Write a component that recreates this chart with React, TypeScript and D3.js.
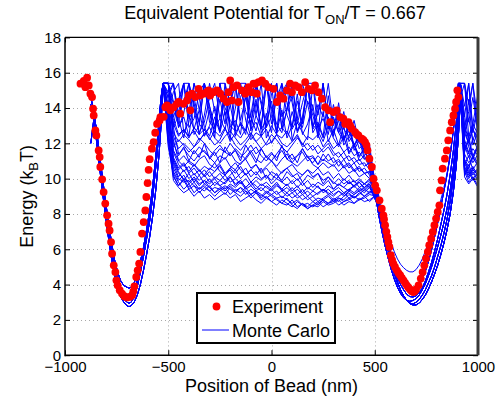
import React, { useEffect, useRef } from 'react';
import * as d3 from 'd3';

// ---------- axes ----------
const xTicks = [-1000, -500, 0, 500, 1000];
const yTicks = [0, 2, 4, 6, 8, 10, 12, 14, 16, 18];

// ---------- Experiment (red dots) ----------
const expX = [
  -925, -909, -901, -893, -885, -877, -869, -864, -861, -853, -848, -837, -832, -829, -820, -813, -805, -796, -789, -784,
  -777, -772, -764, -756, -751, -745, -735, -724, -713, -700, -687, -675, -669, -664, -655, -648, -641, -635, -627, -619,
  -611, -606, -600, -595, -590, -579, -571, -563, -554, -542, -538, -522, -514, -506, -490, -474, -458, -450, -442, -426,
  -409, -401, -393, -385, -369, -353, -345, -329, -313, -305, -297, -281, -264, -248, -232, -216, -208, -200, -192, -184,
  -167, -160, -143, -127, -111, -95, -87, -79, -71, -63, -46, -30, -15, 10, 26, 42, 58, 75, 90, 99,
  115, 131, 147, 163, 179, 196, 211, 227, 244, 260, 276, 284, 300, 316, 332, 348, 357, 373, 381, 389,
  405, 413, 421, 437, 445, 453, 460, 465, 474, 486, 494, 502, 510, 523, 534, 542, 545, 550, 556, 561,
  566, 571, 578, 584, 590, 598, 607, 615, 623, 631, 639, 647, 655, 663, 671, 679, 687, 693, 700, 712,
  723, 732, 740, 748, 757, 764, 773, 781, 789, 797, 805, 813, 816, 824, 829, 840, 849, 856, 865, 873,
  881, 889, 894, 900, 905,
];
const expE = [
  15.38, 15.53, 15.18, 15.72, 15.28, 14.81, 14.62, 13.96, 13.58, 12.73, 12.45, 11.6, 11.22, 10.66, 9.96, 9.24, 8.59, 7.92, 7.45, 7.07,
  6.41, 5.75, 5.09, 4.71, 4.24, 3.96, 3.68, 3.49, 3.34, 3.27, 3.3, 3.4, 3.62, 3.9, 4.43, 4.81, 5.19, 5.85, 6.89, 7.54,
  8.2, 8.96, 9.75, 10.5, 11.1, 11.7, 12.07, 12.6, 13.1, 13.3, 13.49, 13.5, 14.05, 14.15, 13.87, 14.05, 14.24, 14.34, 13.68, 14.24,
  14.43, 14.71, 13.87, 14.81, 14.62, 15.09, 14.71, 14.81, 14.9, 15.0, 14.71, 14.9, 15.0, 14.81, 14.53, 14.34, 14.9, 15.56, 14.43, 15.18,
  15.28, 14.34, 15.0, 14.81, 15.18, 14.9, 15.38, 15.38, 14.81, 15.47, 15.56, 15.38, 15.18, 15.09, 14.34, 14.71, 14.53, 15.0, 15.38, 14.9,
  15.28, 15.18, 14.9, 15.47, 15.09, 15.0, 15.28, 14.9, 14.53, 14.05, 13.87, 13.2, 13.77, 13.87, 13.49, 13.4, 13.1, 13.2, 13.0, 12.83,
  12.64, 12.5, 12.45, 12.26, 12.2, 12.07, 11.9, 11.6, 11.13, 10.66, 10.0, 9.62, 9.34, 8.77, 8.3, 7.92, 7.7, 7.36, 7.0, 6.7,
  6.4, 6.13, 5.66, 5.4, 5.19, 5.0, 4.81, 4.65, 4.53, 4.38, 4.24, 4.1, 3.96, 3.84, 3.72, 3.62, 3.58, 3.62, 3.72, 3.96,
  4.34, 4.71, 5.09, 5.47, 5.85, 6.23, 6.6, 6.98, 7.36, 7.74, 8.11, 8.49, 9.34, 9.9, 10.57, 11.13, 11.6, 12.17, 12.73, 13.2,
  13.58, 13.96, 14.34, 15.0, 14.62,
];

// ---------- Monte Carlo: shared well segments ----------
const wellLeftX = [-875, -860, -850, -835, -820, -805, -790, -775, -760, -745, -730, -715, -700, -690, -680, -665, -650, -635, -620, -605, -590, -575, -560, -545, -535, -525];
const wellLeftA = [14.6, 13.8, 12.6, 11.1, 9.6, 8.2, 6.9, 5.7, 4.7, 4.0, 3.5, 3.2, 3.0, 2.95, 3.0, 3.3, 3.9, 4.7, 5.6, 6.6, 7.6, 9.0, 10.7, 12.6, 14.0, 15.4];
const wellLeftB = [13.5, 13.9, 12.8, 11.3, 9.9, 8.5, 7.2, 6.0, 5.0, 4.3, 3.8, 3.5, 3.35, 3.3, 3.35, 3.6, 4.2, 5.0, 5.9, 6.9, 8.0, 9.4, 11.1, 13.0, 14.4, 15.4];
const wellLeftC = [12.0, 13.4, 13.0, 11.6, 10.2, 8.8, 7.6, 6.4, 5.4, 4.7, 4.2, 3.95, 3.85, 3.8, 3.85, 4.1, 4.6, 5.3, 6.1, 7.1, 8.2, 9.6, 11.3, 13.2, 14.6, 15.4];
const wellLeftD = [14.2, 13.6, 12.4, 10.9, 9.4, 8.0, 6.7, 5.5, 4.5, 3.8, 3.3, 3.0, 2.8, 2.75, 2.8, 3.0, 3.4, 4.0, 4.8, 5.7, 6.7, 7.9, 9.4, 11.3, 13.0, 15.4];

const wellRightX = [510, 520, 535, 550, 565, 580, 595, 610, 625, 640, 655, 670, 685, 700, 715, 730, 745, 760, 775, 790, 805, 820, 835, 850, 865, 880, 895, 905, 915];
const wellRightA = [9.0, 8.3, 7.4, 6.6, 5.9, 5.2, 4.6, 4.1, 3.7, 3.35, 3.1, 2.95, 2.9, 3.0, 3.15, 3.4, 3.7, 4.1, 4.5, 5.0, 5.6, 6.2, 6.9, 7.7, 8.7, 10.0, 11.6, 13.2, 15.4];
const wellRightB = [9.2, 8.5, 7.6, 6.8, 6.1, 5.45, 4.9, 4.4, 4.0, 3.7, 3.45, 3.32, 3.3, 3.35, 3.55, 3.8, 4.2, 4.7, 5.25, 5.9, 6.6, 7.4, 8.2, 9.1, 10.2, 11.5, 13.2, 14.6, 15.4];
const wellRightC = [9.4, 8.7, 7.8, 7.0, 6.3, 5.7, 5.15, 4.65, 4.25, 3.95, 3.75, 3.62, 3.6, 3.7, 3.95, 4.3, 4.75, 5.3, 5.95, 6.7, 7.5, 8.4, 9.3, 10.2, 11.3, 12.7, 14.3, 15.4, 15.4];
const wellRightD = [9.6, 9.0, 8.2, 7.5, 6.9, 6.35, 5.85, 5.45, 5.15, 4.95, 4.8, 4.72, 4.72, 4.85, 5.1, 5.45, 5.9, 6.4, 6.9, 7.5, 8.1, 8.8, 9.5, 10.3, 11.3, 12.6, 14.1, 15.4, 15.4];
const wellRightE = [9.1, 8.4, 7.5, 6.7, 6.0, 5.3, 4.7, 4.15, 3.7, 3.35, 3.1, 2.92, 2.85, 2.85, 2.95, 3.15, 3.4, 3.75, 4.15, 4.6, 5.1, 5.7, 6.35, 7.1, 8.0, 9.2, 10.8, 12.4, 14.6];
const wellRightF = [8.6, 7.9, 7.0, 6.2, 5.5, 4.85, 4.3, 3.85, 3.5, 3.25, 3.1, 3.05, 3.1, 3.2, 3.4, 3.7, 4.05, 4.5, 5.0, 5.55, 6.15, 6.8, 7.5, 8.3, 9.3, 10.6, 12.2, 13.8, 15.4];

const plateauX = [-500, -475, -450, -425, -400, -375, -350, -325, -300, -275, -250, -225, -200, -175, -150, -125, -100, -75, -50, -25,
  0, 25, 50, 75, 100, 125, 150, 175, 200, 225, 250, 275, 300, 325, 350, 375, 400, 425, 450, 475];
const tailX = [935, 955, 975, 1000];

// ---------- Monte Carlo: per-run plateau values ----------
const mcUpper1 = [15.4, 14.2, 13.1, 15.4, 13.6, 12.8, 13.9, 15.4, 14.1, 12.9, 13.4, 14.8, 13.0, 12.7, 15.4, 13.8, 13.2, 14.5, 12.8, 15.4, 14.0, 13.1, 12.6, 13.9, 15.4, 13.3, 12.9, 14.4, 13.6, 12.5, 15.4, 13.2, 12.4, 13.7, 12.3, 12.9, 11.8, 12.4, 11.5, 11.9];
const mcUpper2 = [14.6, 15.4, 12.9, 13.7, 15.4, 14.3, 12.6, 13.2, 14.6, 15.4, 13.4, 12.8, 14.2, 15.4, 13.0, 12.7, 13.6, 15.4, 14.4, 12.9, 13.5, 15.4, 12.8, 13.9, 14.7, 12.6, 13.3, 15.4, 13.8, 12.9, 13.4, 12.5, 14.2, 12.8, 12.2, 13.0, 11.9, 12.5, 11.3, 11.6];
const mcUpper3 = [15.4, 13.5, 14.3, 15.4, 12.9, 13.4, 14.9, 15.4, 13.2, 12.8, 15.4, 14.0, 13.3, 12.9, 14.6, 15.4, 13.5, 12.7, 13.9, 15.4, 13.1, 14.5, 15.4, 13.6, 12.8, 13.4, 15.4, 14.2, 12.9, 13.7, 15.4, 12.8, 13.5, 12.6, 12.1, 13.2, 11.6, 12.2, 11.1, 11.4];
const mcUpper4 = [13.8, 14.9, 15.4, 12.6, 13.2, 15.4, 13.9, 12.4, 13.0, 14.1, 12.7, 15.4, 14.2, 12.6, 13.1, 12.5, 15.4, 13.6, 12.8, 13.3, 15.4, 12.6, 12.9, 15.4, 14.3, 12.7, 13.5, 15.4, 12.8, 13.2, 12.4, 14.7, 12.6, 13.3, 11.9, 12.4, 11.9, 11.3, 11.7, 10.9];
const mcUpper5 = [15.4, 12.9, 13.6, 14.4, 15.4, 12.5, 13.0, 15.4, 13.7, 12.6, 14.5, 13.1, 15.4, 12.4, 13.2, 12.7, 14.8, 15.4, 12.6, 13.0, 14.4, 12.6, 13.9, 12.3, 13.0, 14.8, 12.5, 13.1, 14.2, 12.3, 13.8, 12.1, 12.8, 11.9, 13.0, 11.5, 12.0, 11.2, 11.8, 10.7];
const mcUpper6 = [15.4, 15.4, 13.4, 12.3, 13.8, 15.4, 14.6, 12.9, 12.4, 13.5, 12.6, 13.8, 12.2, 15.0, 15.4, 13.3, 12.4, 13.6, 15.4, 12.3, 13.0, 12.5, 14.9, 15.4, 12.2, 13.2, 12.6, 12.2, 15.4, 12.7, 12.1, 13.0, 12.3, 11.8, 12.4, 11.4, 11.9, 11.0, 11.3, 10.6];
const mcUpper7 = [15.4, 13.0, 14.5, 15.4, 13.4, 13.9, 12.5, 13.6, 15.4, 13.8, 12.7, 14.9, 12.6, 14.0, 15.4, 15.4, 12.7, 14.3, 13.0, 15.4, 13.8, 12.6, 15.4, 14.3, 12.9, 14.4, 13.1, 15.4, 15.4, 13.6, 15.4, 12.9, 13.4, 12.6, 13.8, 12.1, 12.6, 11.7, 12.0, 11.3];
const mcUpper8 = [14.9, 15.4, 13.7, 15.4, 15.4, 14.0, 13.2, 15.4, 14.1, 12.9, 15.4, 13.6, 14.4, 15.4, 13.3, 14.6, 13.0, 15.4, 14.2, 12.9, 14.8, 15.4, 13.5, 14.0, 15.4, 13.1, 14.3, 15.4, 12.9, 14.2, 13.5, 15.4, 13.0, 13.9, 12.8, 12.4, 13.3, 12.0, 11.9, 11.6];
const mcUpper9 = [15.4, 14.4, 12.9, 13.5, 12.4, 14.6, 13.1, 12.7, 13.9, 12.3, 15.4, 15.4, 12.9, 13.3, 12.5, 14.9, 12.8, 13.2, 12.4, 13.7, 12.6, 15.4, 12.9, 12.5, 13.8, 12.7, 13.2, 15.4, 12.6, 13.1, 12.3, 13.5, 12.4, 14.3, 12.2, 12.7, 11.9, 12.3, 11.5, 11.1];
const mcMid1 = [14.2, 12.6, 12.1, 12.5, 12.2, 11.8, 12.1, 12.6, 12.3, 11.9, 12.2, 12.8, 12.4, 11.9, 11.6, 12.0, 12.4, 12.1, 11.7, 12.0, 12.5, 12.2, 11.8, 11.5, 11.9, 12.3, 12.0, 11.6, 11.9, 11.4, 11.7, 12.0, 11.5, 11.2, 11.5, 11.0, 11.2, 10.8, 10.9, 10.5];
const mcMid2 = [13.5, 11.8, 12.2, 11.9, 11.5, 11.8, 12.3, 12.0, 11.6, 11.3, 11.7, 11.5, 12.0, 11.6, 11.2, 11.5, 11.9, 11.4, 11.7, 11.2, 11.0, 11.4, 11.8, 11.5, 11.1, 11.3, 11.7, 11.2, 10.9, 11.3, 11.0, 11.4, 10.9, 11.1, 10.7, 10.9, 10.5, 10.7, 10.3, 10.4];
const mcMid3 = [15.4, 12.9, 11.4, 11.7, 11.3, 11.0, 11.4, 11.6, 11.2, 10.9, 11.3, 11.1, 11.5, 11.0, 10.8, 11.2, 11.6, 11.1, 10.9, 11.3, 11.0, 10.7, 11.1, 11.4, 10.9, 10.7, 11.0, 11.3, 10.8, 10.6, 10.9, 10.6, 10.8, 10.4, 10.7, 10.3, 10.5, 10.1, 10.3, 10.0];
const mcMid4 = [13.0, 12.2, 11.0, 11.3, 10.9, 10.7, 11.1, 11.3, 10.8, 10.6, 10.9, 11.2, 10.7, 10.5, 10.9, 11.1, 10.6, 10.8, 10.4, 10.7, 11.0, 10.6, 10.3, 10.6, 10.8, 10.4, 10.2, 10.5, 10.3, 10.6, 10.2, 10.4, 10.0, 10.3, 9.9, 10.2, 9.8, 10.0, 9.7, 9.9];
const mcMid5 = [15.4, 13.4, 12.5, 12.8, 12.4, 12.7, 12.2, 12.5, 12.9, 12.3, 12.0, 12.4, 12.7, 12.3, 11.9, 12.2, 12.6, 12.1, 12.4, 11.9, 12.1, 12.5, 12.0, 11.8, 12.1, 12.4, 11.8, 12.0, 11.6, 11.9, 11.5, 11.8, 11.3, 11.5, 11.1, 11.3, 10.9, 11.1, 10.7, 10.9];
const mcMid6 = [14.0, 11.6, 11.0, 10.7, 11.0, 10.8, 10.4, 10.7, 10.5, 10.9, 10.4, 10.2, 10.6, 10.9, 10.5, 10.2, 10.5, 10.8, 10.3, 10.6, 10.2, 10.0, 10.4, 10.6, 10.2, 9.9, 10.2, 10.5, 10.1, 10.3, 9.9, 10.1, 9.7, 10.0, 9.7, 9.9, 9.5, 9.8, 9.4, 9.7];
const mcMid7 = [15.4, 12.4, 11.7, 12.0, 11.7, 11.4, 11.8, 11.5, 11.2, 11.6, 11.9, 11.5, 11.3, 11.7, 11.4, 11.1, 11.5, 11.8, 11.3, 11.0, 11.4, 11.2, 11.6, 11.1, 10.9, 11.3, 11.5, 11.0, 11.2, 10.8, 11.1, 10.9, 10.7, 11.0, 10.6, 10.8, 10.4, 10.6, 10.3, 10.4];
const mcMid8 = [15.4, 12.0, 11.3, 11.8, 11.0, 11.6, 11.2, 12.0, 11.1, 11.5, 10.9, 11.8, 11.3, 11.6, 11.0, 11.9, 11.4, 10.9, 11.7, 11.2, 11.5, 11.0, 11.9, 11.1, 11.4, 10.9, 11.7, 11.2, 11.3, 10.8, 11.4, 11.0, 11.2, 10.7, 11.1, 10.6, 10.9, 10.4, 10.6, 10.2];
const mcMid9 = [14.8, 13.1, 12.4, 12.8, 12.3, 12.9, 12.5, 12.8, 12.2, 12.7, 12.4, 12.9, 12.1, 12.6, 12.3, 12.8, 12.2, 12.6, 12.4, 12.8, 12.0, 12.5, 12.3, 12.7, 12.1, 12.5, 11.9, 12.4, 12.2, 12.5, 11.8, 12.2, 11.7, 12.0, 11.5, 11.8, 11.3, 11.5, 11.1, 11.3];
const mcMid10 = [13.8, 11.2, 10.6, 10.9, 10.4, 10.8, 10.5, 10.2, 10.6, 10.4, 10.8, 10.3, 10.6, 10.3, 10.7, 10.2, 10.5, 10.2, 10.6, 10.0, 10.4, 10.2, 9.9, 10.4, 10.1, 10.3, 9.8, 10.2, 10.0, 10.3, 9.7, 10.1, 9.8, 9.6, 10.0, 9.7, 9.9, 9.5, 9.7, 9.5];
const mcLow1 = [12.5, 10.6, 10.0, 9.8, 9.9, 9.6, 9.4, 9.6, 9.3, 9.5, 9.4, 9.6, 9.4, 9.2, 9.5, 9.3, 9.1, 9.3, 9.1, 8.9, 9.1, 8.9, 9.0, 8.8, 8.6, 8.8, 8.5, 8.6, 8.4, 8.6, 8.8, 8.6, 8.7, 8.9, 8.7, 8.8, 9.0, 8.8, 8.9, 9.1];
const mcLow2 = [13.0, 10.9, 10.3, 10.0, 9.8, 10.1, 9.7, 9.9, 9.5, 9.8, 9.6, 9.4, 9.7, 9.5, 9.8, 9.4, 9.6, 9.3, 9.5, 9.2, 9.4, 9.1, 9.3, 9.0, 9.2, 8.9, 9.1, 8.8, 9.0, 8.7, 8.9, 9.1, 8.8, 9.0, 9.2, 8.9, 9.1, 9.3, 9.0, 9.2];
const mcLow3 = [11.8, 10.2, 9.6, 9.9, 9.4, 9.6, 9.2, 9.5, 9.3, 9.0, 9.3, 9.5, 9.1, 9.4, 9.2, 9.5, 9.1, 9.3, 8.9, 9.2, 9.0, 8.8, 8.6, 8.9, 8.5, 8.3, 8.6, 8.4, 8.7, 8.5, 8.8, 8.6, 8.9, 8.7, 9.0, 9.2, 8.9, 9.1, 9.4, 9.2];
const mcLow4 = [14.5, 11.5, 10.8, 10.4, 10.7, 10.2, 10.5, 10.1, 10.4, 10.0, 10.3, 9.9, 10.2, 10.5, 10.0, 10.3, 9.8, 10.1, 9.9, 10.2, 9.7, 10.0, 9.8, 9.6, 9.9, 9.5, 9.8, 9.4, 9.7, 9.5, 9.3, 9.6, 9.4, 9.7, 9.5, 9.3, 9.6, 9.8, 9.5, 9.7];
const mcLow5 = [12.0, 10.4, 9.9, 10.2, 9.7, 10.0, 9.6, 9.9, 9.7, 10.0, 9.6, 9.8, 10.1, 9.7, 9.9, 9.5, 9.8, 9.6, 9.3, 9.6, 9.4, 9.7, 9.3, 9.5, 9.2, 9.4, 9.1, 9.3, 9.0, 9.2, 9.4, 9.1, 9.3, 9.5, 9.2, 9.4, 9.6, 9.3, 9.5, 9.8];
const mcLow6 = [13.6, 11.1, 10.5, 10.8, 10.3, 10.6, 10.2, 10.5, 10.1, 10.4, 10.7, 10.2, 10.5, 10.0, 10.3, 10.6, 10.1, 10.4, 10.0, 10.2, 9.9, 10.3, 9.8, 10.1, 9.7, 10.0, 9.6, 9.9, 9.5, 9.8, 9.6, 9.9, 9.4, 9.7, 9.5, 9.8, 9.6, 9.9, 9.7, 10.0];
const mcLow7 = [12.2, 9.9, 9.5, 9.2, 9.4, 9.0, 9.3, 8.9, 9.1, 8.8, 9.0, 9.2, 8.9, 9.1, 8.7, 8.9, 9.1, 8.8, 8.6, 8.9, 8.7, 8.5, 8.8, 8.6, 8.4, 8.7, 8.5, 8.3, 8.5, 8.7, 8.4, 8.6, 8.8, 8.5, 8.7, 8.9, 8.6, 8.8, 9.0, 8.7];
const mcLow8 = [13.2, 10.8, 10.1, 10.5, 10.0, 10.3, 9.9, 10.2, 9.8, 10.1, 9.9, 10.2, 9.8, 10.0, 9.7, 10.0, 9.6, 9.9, 9.6, 9.8, 9.5, 9.8, 9.4, 9.7, 9.3, 9.6, 9.2, 9.5, 9.3, 9.6, 9.2, 9.4, 9.1, 9.3, 9.0, 9.3, 9.1, 9.4, 9.2, 9.5];
const mcLow9 = [12.8, 10.3, 9.8, 9.4, 9.7, 9.2, 9.5, 9.3, 9.6, 9.2, 9.4, 9.1, 9.5, 9.2, 9.0, 9.3, 8.9, 9.2, 8.8, 9.0, 8.7, 8.9, 8.6, 8.5, 8.8, 8.4, 8.6, 8.3, 8.5, 8.4, 8.7, 8.5, 8.6, 8.8, 8.5, 8.7, 8.6, 8.9, 8.7, 8.8];
const mcLow10 = [14.0, 11.0, 10.4, 9.9, 10.3, 9.8, 10.2, 9.7, 10.0, 9.6, 9.9, 9.7, 10.1, 9.6, 9.9, 9.5, 9.8, 9.4, 9.7, 9.5, 9.3, 9.6, 9.4, 9.2, 9.5, 9.1, 9.4, 9.0, 9.3, 9.1, 9.4, 9.2, 9.0, 9.3, 9.1, 9.4, 9.2, 9.5, 9.3, 9.6];
const mcLow11 = [12.4, 10.1, 9.6, 10.0, 9.5, 9.8, 9.4, 9.7, 9.5, 9.2, 9.5, 9.3, 9.6, 9.3, 9.5, 9.1, 9.4, 9.2, 9.0, 9.3, 9.1, 9.3, 8.9, 9.2, 8.9, 9.1, 8.8, 9.0, 8.7, 8.9, 8.8, 9.0, 8.7, 8.9, 8.8, 9.1, 8.9, 9.2, 9.0, 9.3];

const mcRuns = [
  { plateau: mcUpper1, tail: [15.4, 13.2, 14.6, 12.8], left: 'A', right: 'A' },
  { plateau: mcUpper2, tail: [14.1, 15.4, 12.6, 13.9], left: 'B', right: 'B' },
  { plateau: mcUpper3, tail: [12.9, 13.8, 15.4, 12.2], left: 'A', right: 'C' },
  { plateau: mcUpper4, tail: [15.4, 12.4, 13.1, 14.8], left: 'C', right: 'E' },
  { plateau: mcUpper5, tail: [13.6, 12.1, 12.9, 11.8], left: 'B', right: 'F' },
  { plateau: mcUpper6, tail: [12.3, 14.5, 11.9, 12.7], left: 'D', right: 'B' },
  { plateau: mcUpper7, tail: [13.5, 15.4, 12.9, 14.0], left: 'D', right: 'E' },
  { plateau: mcUpper8, tail: [15.4, 14.2, 15.4, 13.3], left: 'C', right: 'F' },
  { plateau: mcUpper9, tail: [12.6, 13.4, 12.2, 12.9], left: 'B', right: 'E' },
  { plateau: mcMid1, tail: [12.0, 11.4, 12.3, 11.6], left: 'B', right: 'C' },
  { plateau: mcMid2, tail: [11.5, 12.2, 11.1, 11.8], left: 'A', right: 'A' },
  { plateau: mcMid3, tail: [13.0, 11.8, 11.2, 11.9], left: 'C', right: 'B' },
  { plateau: mcMid4, tail: [11.1, 10.7, 11.3, 10.9], left: 'D', right: 'E' },
  { plateau: mcMid5, tail: [12.6, 12.0, 12.8, 12.2], left: 'B', right: 'C' },
  { plateau: mcMid6, tail: [10.8, 11.3, 10.5, 11.0], left: 'A', right: 'F' },
  { plateau: mcMid7, tail: [11.9, 11.2, 11.7, 11.3], left: 'C', right: 'A' },
  { plateau: mcMid8, tail: [11.6, 12.4, 11.3, 11.9], left: 'D', right: 'F' },
  { plateau: mcMid9, tail: [12.9, 12.3, 13.1, 12.5], left: 'A', right: 'E' },
  { plateau: mcMid10, tail: [11.0, 10.6, 11.2, 10.8], left: 'B', right: 'F' },
  { plateau: mcLow1, tail: [10.6, 10.1, 10.5, 10.2], left: 'A', right: 'A' },
  { plateau: mcLow2, tail: [10.3, 10.8, 10.2, 10.6], left: 'B', right: 'B' },
  { plateau: mcLow3, tail: [11.0, 10.4, 9.9, 10.3], left: 'A', right: 'D' },
  { plateau: mcLow4, tail: [11.4, 10.9, 11.2, 10.7], left: 'B', right: 'A' },
  { plateau: mcLow5, tail: [10.2, 10.6, 10.0, 10.4], left: 'D', right: 'C' },
  { plateau: mcLow6, tail: [12.2, 11.5, 10.9, 11.4], left: 'C', right: 'B' },
  { plateau: mcLow7, tail: [10.4, 9.8, 10.1, 9.6], left: 'A', right: 'E' },
  { plateau: mcLow8, tail: [10.9, 10.3, 10.7, 10.1], left: 'B', right: 'A' },
  { plateau: mcLow9, tail: [10.1, 9.7, 10.0, 9.5], left: 'D', right: 'E' },
  { plateau: mcLow10, tail: [10.7, 10.2, 10.6, 10.3], left: 'C', right: 'F' },
  { plateau: mcLow11, tail: [10.5, 10.0, 10.4, 9.9], left: 'B', right: 'E' },
];

const legendLabels = ['Experiment', 'Monte Carlo'];

const FONT = "'Liberation Sans', Arial, Helvetica, sans-serif";

export default function App() {
  const ref = useRef<SVGSVGElement>(null);

  useEffect(() => {
    const svg = d3.select(ref.current);
    svg.selectAll('*').remove();

    const W = 504, H = 403;
    const L = 65, R = 478, T = 37.4, B = 355.2;
    const x = d3.scaleLinear().domain([-1000, 1000]).range([L, R]);
    const y = d3.scaleLinear().domain([0, 18]).range([B, T]);

    svg.append('rect').attr('width', W).attr('height', H).attr('fill', '#fff');

    // grid
    const grid = svg.append('g').attr('stroke', '#a8a8a8').attr('stroke-width', 1).attr('stroke-dasharray', '1,3');
    grid.selectAll('line.gx').data(xTicks.slice(1, -1)).join('line')
      .attr('x1', d => Math.round(x(d)) + 0.5).attr('x2', d => Math.round(x(d)) + 0.5)
      .attr('y1', T).attr('y2', B);
    grid.selectAll('line.gy').data(yTicks.slice(1, -1)).join('line')
      .attr('y1', d => Math.round(y(d)) + 0.5).attr('y2', d => Math.round(y(d)) + 0.5)
      .attr('x1', L).attr('x2', R);

    svg.append('clipPath').attr('id', 'plotclip').append('rect')
      .attr('x', L).attr('y', T).attr('width', R - L).attr('height', B - T);

    const leftMap: Record<string, number[]> = { A: wellLeftA, B: wellLeftB, C: wellLeftC, D: wellLeftD };
    const rightMap: Record<string, number[]> = { A: wellRightA, B: wellRightB, C: wellRightC, D: wellRightD, E: wellRightE, F: wellRightF };

    const line = d3.line<[number, number]>()
      .x(d => x(d[0])).y(d => y(d[1])).curve(d3.curveLinear);

    const mcG = svg.append('g').attr('clip-path', 'url(#plotclip)');
    mcRuns.forEach(run => {
      const pts: [number, number][] = [
        ...wellLeftX.map((v, i) => [v, leftMap[run.left][i]] as [number, number]),
        ...plateauX.map((v, i) => [v, run.plateau[i]] as [number, number]),
        ...wellRightX.map((v, i) => [v, rightMap[run.right][i]] as [number, number]),
        ...tailX.map((v, i) => [v, run.tail[i]] as [number, number]),
      ];
      mcG.append('path').attr('d', line(pts) as string)
        .attr('fill', 'none').attr('stroke', '#0000ff').attr('stroke-width', 1)
        .attr('stroke-linejoin', 'round');
    });

    // experiment dots
    svg.append('g').attr('clip-path', 'url(#plotclip)')
      .selectAll('circle').data(expX.map((v, i) => [v, expE[i]])).join('circle')
      .attr('cx', d => x(d[0])).attr('cy', d => y(d[1])).attr('r', 3.9)
      .attr('fill', '#ff0000');

    // axes
    const fmt = d3.format('d');
    const ax = svg.append('g');
    const bottom = ax.append('g').attr('transform', `translate(0,${B})`)
      .call(d3.axisBottom(x).tickValues(xTicks).tickFormat(d => fmt(d as number)).tickSizeInner(-5).tickSizeOuter(0).tickPadding(6.3));
    const left = ax.append('g').attr('transform', `translate(${L},0)`)
      .call(d3.axisLeft(y).tickValues(yTicks).tickFormat(d => fmt(d as number)).tickSizeInner(-5).tickSizeOuter(0).tickPadding(4));
    const top = ax.append('g').attr('transform', `translate(0,${T})`)
      .call(d3.axisTop(x).tickValues(xTicks).tickSizeInner(-5).tickSizeOuter(0).tickFormat(() => ''));
    const right = ax.append('g').attr('transform', `translate(${R},0)`)
      .call(d3.axisRight(y).tickValues(yTicks).tickSizeInner(-5).tickSizeOuter(0).tickFormat(() => ''));
    [bottom, left, top, right].forEach(g => {
      g.select('.domain').remove();
      g.selectAll('line').attr('stroke', '#000');
      g.selectAll('text').attr('font-family', FONT).attr('font-size', 15).attr('fill', '#000');
    });

    // box
    ax.append('line').attr('x1', L).attr('x2', L).attr('y1', T).attr('y2', B + 1).attr('stroke', '#000').attr('stroke-width', 1.5);
    ax.append('line').attr('x1', L).attr('x2', R).attr('y1', B).attr('y2', B).attr('stroke', '#000').attr('stroke-width', 1.5);
    ax.append('line').attr('x1', L).attr('x2', R).attr('y1', T).attr('y2', T).attr('stroke', '#000').attr('stroke-width', 1.2);
    ax.append('line').attr('x1', R).attr('x2', R).attr('y1', T).attr('y2', B).attr('stroke', '#3a3a3a').attr('stroke-width', 3);

    // title
    const title = svg.append('text').attr('x', 275).attr('y', 18.5).attr('text-anchor', 'middle')
      .attr('font-family', FONT).attr('font-size', 18).attr('fill', '#000');
    title.append('tspan').text('Equivalent Potential for T');
    title.append('tspan').attr('font-size', 13).attr('dy', 5).text('ON');
    title.append('tspan').attr('dy', -5).text('/T = 0.667');

    // x label
    svg.append('text').attr('x', 271.5).attr('y', 391.5).attr('text-anchor', 'middle')
      .attr('font-family', FONT).attr('font-size', 18).attr('fill', '#000')
      .text('Position of Bead (nm)');

    // y label
    const yl = svg.append('text').attr('transform', `translate(33,${(T + B) / 2}) rotate(-90)`)
      .attr('text-anchor', 'middle').attr('font-family', FONT).attr('font-size', 18).attr('fill', '#000');
    yl.append('tspan').text('Energy (k');
    yl.append('tspan').attr('font-size', 13).attr('dy', 5).text('B');
    yl.append('tspan').attr('dy', -5).text('T)');

    // legend
    const lg = svg.append('g');
    lg.append('rect').attr('x', 197).attr('y', 293).attr('width', 138).attr('height', 50)
      .attr('fill', '#fff').attr('stroke', '#000').attr('stroke-width', 2);
    lg.append('circle').attr('cx', 216.5).attr('cy', 306.5).attr('r', 3.9).attr('fill', '#ff0000');
    lg.append('line').attr('x1', 202).attr('x2', 229).attr('y1', 330).attr('y2', 330)
      .attr('stroke', '#0000ff').attr('stroke-width', 1);
    lg.selectAll('text.lt').data(legendLabels).join('text')
      .attr('x', 232).attr('y', (d, i) => (i === 0 ? 313.3 : 336.5))
      .attr('font-family', FONT).attr('font-size', 18).attr('fill', '#000').text(d => d);
  }, []);

  return (
    <svg ref={ref} width={504} height={403}
      style={{ position: 'absolute', left: 0, top: 0, display: 'block' }} />
  );
}
